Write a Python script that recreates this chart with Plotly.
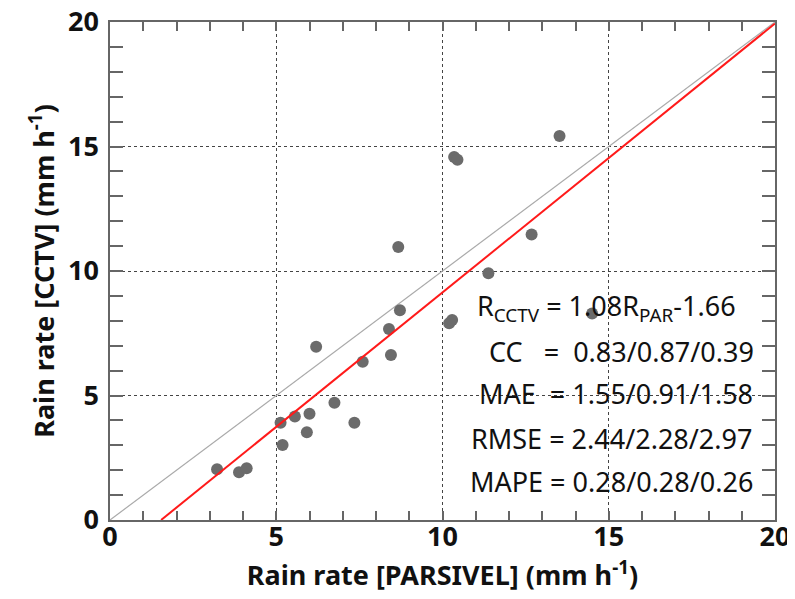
import plotly.graph_objects as go

# Data
parsivel = [3.22, 3.88, 4.11, 5.13, 5.19, 5.56, 5.92, 6.00, 6.20, 6.75, 7.35, 7.60,
            8.39, 8.45, 8.72, 8.67, 10.20, 10.29, 10.35, 10.45, 11.38, 12.68, 13.52, 14.50]
cctv = [2.04, 1.92, 2.08, 3.91, 3.01, 4.16, 3.52, 4.27, 6.96, 4.71, 3.91, 6.36,
        7.67, 6.63, 8.42, 10.96, 7.90, 8.03, 14.58, 14.47, 9.91, 11.47, 15.42, 8.29]

slope = 1.08
intercept = -1.66
axis_range = [0, 20]

stats_lines = [
    "R<sub>CCTV</sub> = 1.08R<sub>PAR</sub>-1.66",
    "CC   =  0.83/0.87/0.39",
    "MAE  = 1.55/0.91/1.58",
    "RMSE = 2.44/2.28/2.97",
    "MAPE = 0.28/0.28/0.26",
]
stats_x = [14.92, 15.37, 15.22, 15.07, 15.07]
stats_y = [8.55, 6.75, 5.10, 3.29, 1.53]

x0 = -intercept / slope
fit_x = [x0, axis_range[1]]
fit_y = [slope * v + intercept for v in fit_x]

fig = go.Figure()
fig.add_trace(go.Scatter(x=axis_range, y=axis_range, mode="lines",
                         line=dict(color="#aaaaaa", width=1.2), showlegend=False))
fig.add_trace(go.Scatter(x=parsivel, y=cctv, mode="markers",
                         marker=dict(color="#6b6b6b", size=12), showlegend=False))
fig.add_trace(go.Scatter(x=fit_x, y=fit_y, mode="lines",
                         line=dict(color="#ff1a1a", width=2), showlegend=False))

for t, xx, yy in zip(stats_lines, stats_x, stats_y):
    fig.add_annotation(x=xx, y=yy, xref="x", yref="y", text=t, showarrow=False,
                       xanchor="center", yanchor="middle",
                       font=dict(family="Noto Sans", size=27, color="#111111"))

axis_common = dict(
    range=axis_range, dtick=5, tick0=0, automargin=False,
    ticklabeloverflow="allow",
    showline=True, linecolor="#666666", linewidth=1.5, mirror="ticks",
    ticks="inside", tickcolor="#666666", tickwidth=1.5,
    showgrid=True, gridcolor="#444444", griddash="dot", gridwidth=1,
    zeroline=False,
    tickfont=dict(family="Noto Sans", size=27, color="#111111", weight="bold"),
)

fig.update_xaxes(**axis_common, ticklen=9, ticklabelstandoff=-8,
                 minor=dict(dtick=1, ticks="inside", ticklen=9, tickcolor="#666666",
                            tickwidth=1.5, showgrid=False),
                 title=dict(text="<b>Rain rate [PARSIVEL] (mm h<sup>-1</sup>)</b>",
                            font=dict(family="Noto Sans", size=27, color="#111111"),
                            standoff=10))
fig.update_yaxes(**axis_common, ticklen=13, ticklabelstandoff=4,
                 minor=dict(dtick=1, ticks="inside", ticklen=13, tickcolor="#666666",
                            tickwidth=1.5, showgrid=False),
                 title=dict(text="<b>Rain rate [CCTV] (mm h<sup>-1</sup>)</b>",
                            font=dict(family="Noto Sans", size=27, color="#111111"),
                            standoff=6))

# the page body adds an 8 px offset, so the figure is sized to fit the window
fig.update_layout(width=787, height=591, plot_bgcolor="white", paper_bgcolor="white",
                  margin=dict(l=102, r=20, t=14, b=79))

fig.write_html("out.html")
